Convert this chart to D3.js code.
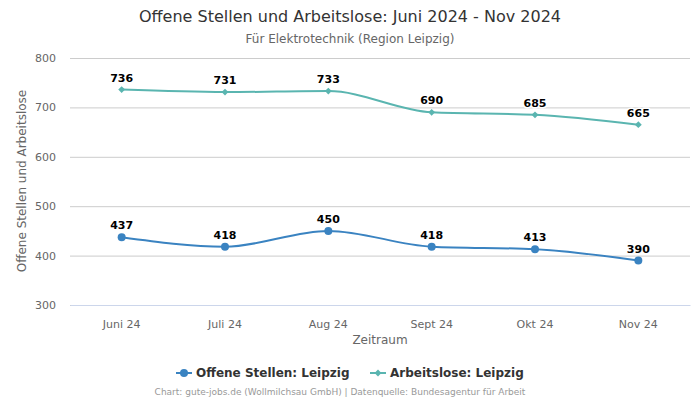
<!DOCTYPE html>
<html><head><meta charset="utf-8">
<script src="https://cdn.jsdelivr.net/npm/d3@7"></script>
<style>body{margin:0;background:#fff}svg{font-family:"DejaVu Sans",sans-serif}</style>
</head><body><svg id="c" width="700" height="400"></svg>
<script>
const categories = ["Juni 24","Juli 24","Aug 24","Sept 24","Okt 24","Nov 24"];
const offeneStellen = [437,418,450,418,413,390];
const arbeitslose = [736,731,733,690,685,665];
const yTicks = [300,400,500,600,700,800];
const seriesNames = ["Offene Stellen: Leipzig","Arbeitslose: Leipzig"];
const colors = ["#3a83c1","#5ab5b0"];

const svg = d3.select("#c");
const L=70,R=690,T=58,B=305;
const x = d3.scaleBand().domain(categories).range([L,R]).padding(0);
const y = d3.scaleLinear().domain([300,800]).range([B,T]);

svg.append("text").attr("x",350).attr("y",22).attr("text-anchor","middle").attr("font-size",16).attr("fill","#333").text("Offene Stellen und Arbeitslose: Juni 2024 - Nov 2024");
svg.append("text").attr("x",350).attr("y",43).attr("text-anchor","middle").attr("font-size",12).attr("fill","#666").text("Für Elektrotechnik (Region Leipzig)");

const gy = svg.append("g").attr("transform",`translate(${L},0)`)
  .call(d3.axisLeft(y).tickValues(yTicks).tickSize(-(R-L)).tickPadding(14));
gy.select(".domain").remove();
gy.selectAll("line").attr("stroke","#ccc");
gy.selectAll("text").attr("font-size",11).attr("fill","#666").attr("font-family","DejaVu Sans");

const gx = svg.append("g").attr("transform",`translate(0,${B})`)
  .call(d3.axisBottom(x).tickSize(0).tickPadding(15));
gx.select(".domain").attr("stroke","#ccd6eb");
gx.selectAll("text").attr("font-size",11).attr("fill","#666").attr("font-family","DejaVu Sans");

svg.append("text").attr("x",380).attr("y",344).attr("text-anchor","middle").attr("font-size",12).attr("fill","#666").text("Zeitraum");
svg.append("text").attr("transform","translate(26,181) rotate(-90)").attr("text-anchor","middle").attr("font-size",12).attr("fill","#666").text("Offene Stellen und Arbeitslose");

const cx = d => x(d)+x.bandwidth()/2;
const line = d3.line().x((d,i)=>cx(categories[i])).y(d=>y(d)).curve(d3.curveMonotoneX);

[offeneStellen, arbeitslose].forEach((data,si)=>{
  const g = svg.append("g");
  g.append("path").attr("d",line(data)).attr("fill","none").attr("stroke",colors[si]).attr("stroke-width",2);
  data.forEach((v,i)=>{
    const px=cx(categories[i]), py=y(v);
    if(si===0) g.append("circle").attr("cx",px).attr("cy",py).attr("r",4).attr("fill",colors[si]);
    else g.append("path").attr("d",d3.symbol(d3.symbolDiamond2? d3.symbolDiamond2 : d3.symbolDiamond,30)()).attr("transform",`translate(${px},${py})`).attr("fill",colors[si]);
    g.append("text").attr("x",px).attr("y",py-8).attr("text-anchor","middle").attr("font-size",11).attr("font-weight","bold")
      .attr("fill","#000").attr("stroke","#fff").attr("stroke-width",3).attr("paint-order","stroke").attr("stroke-linejoin","round").text(v);
  });
});

// legend
const lg = svg.append("g");
const items = [{x:176,name:seriesNames[0],c:colors[0],s:"circle"},{x:370,name:seriesNames[1],c:colors[1],s:"diamond"}];
items.forEach(it=>{
  lg.append("line").attr("x1",it.x).attr("x2",it.x+16).attr("y1",373).attr("y2",373).attr("stroke",it.c).attr("stroke-width",2);
  if(it.s==="circle") lg.append("circle").attr("cx",it.x+8).attr("cy",373).attr("r",4).attr("fill",it.c);
  else lg.append("path").attr("d",d3.symbol(d3.symbolDiamond2? d3.symbolDiamond2 : d3.symbolDiamond,30)()).attr("transform",`translate(${it.x+8},373)`).attr("fill",it.c);
  lg.append("text").attr("x",it.x+20).attr("y",377).attr("font-size",12).attr("font-weight","bold").attr("fill","#333").text(it.name);
});
svg.append("text").attr("x",340).attr("y",395).attr("text-anchor","middle").attr("font-size",9).attr("fill","#999").text("Chart: gute-jobs.de (Wollmilchsau GmbH) | Datenquelle: Bundesagentur für Arbeit");
</script></body></html>
